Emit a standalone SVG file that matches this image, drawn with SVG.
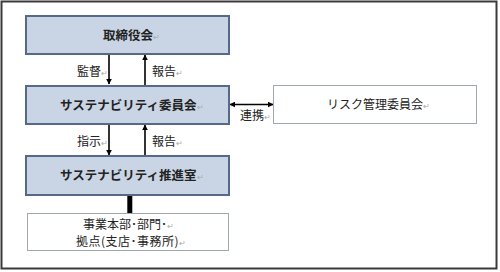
<svg xmlns="http://www.w3.org/2000/svg" width="500" height="272" viewBox="0 0 500 272">
<style>
text{font-family:"Noto Sans CJK JP","Noto Sans",sans-serif;font-size:12px;fill:#222;}
.t{font-weight:bold;font-size:12.5px;}
.pm{fill:#aaa;font-size:8px;font-weight:normal;}
.blue{fill:#c9d5e4;stroke:#56698a;stroke-width:2;}
.white{fill:#fff;stroke:#a0a8b0;stroke-width:1;}
.ln{stroke:#000;stroke-width:1.6;fill:none;}
</style>
<defs>
<marker id="ah" viewBox="0 0 10 10" refX="9" refY="5" markerWidth="6" markerHeight="6" markerUnits="userSpaceOnUse" orient="auto-start-reverse">
<path d="M0,0 L10,5 L0,10 z" fill="#000"/>
</marker>
</defs>
<rect x="1.5" y="1.5" width="495" height="267" fill="#fff" stroke="#3a3a3a" stroke-width="2"/>
<g id="connectors">
<line class="ln" x1="109" y1="54" x2="109" y2="84" marker-end="url(#ah)"/>
<line class="ln" x1="145" y1="85" x2="145" y2="55" marker-end="url(#ah)"/>
<line class="ln" x1="109" y1="124" x2="109" y2="155" marker-end="url(#ah)"/>
<line class="ln" x1="145" y1="156" x2="145" y2="125" marker-end="url(#ah)"/>
<line class="ln" x1="230" y1="104.5" x2="273" y2="104.5" marker-start="url(#ah)" marker-end="url(#ah)"/>
<line x1="129.8" y1="195" x2="129.8" y2="213" stroke="#000" stroke-width="5"/>
<text x="77" y="75.5">監督<tspan class="pm">↵</tspan></text>
<text x="152" y="75.5">報告<tspan class="pm">↵</tspan></text>
<text x="77" y="146">指示<tspan class="pm">↵</tspan></text>
<text x="152" y="146">報告<tspan class="pm">↵</tspan></text>
<text x="240" y="120">連携<tspan class="pm">↵</tspan></text>
</g>
<g id="board">
<rect class="blue" x="26" y="16" width="203" height="38"/>
<text class="t" x="103" y="39.5">取締役会<tspan class="pm">↵</tspan></text>
</g>
<g id="committee">
<rect class="blue" x="26" y="86" width="203" height="38"/>
<text class="t" x="60" y="109.5">サステナビリティ委員会<tspan class="pm">↵</tspan></text>
</g>
<g id="office">
<rect class="blue" x="26" y="156" width="203" height="39"/>
<text class="t" x="60" y="180">サステナビリティ推進室<tspan class="pm">↵</tspan></text>
</g>
<g id="divisions">
<rect class="white" x="27.5" y="213.5" width="201" height="37"/>
<text x="83" y="228.5">事業本部･部門･<tspan class="pm">↵</tspan></text>
<text x="76" y="245.5" letter-spacing="0.5">拠点(支店･事務所)<tspan class="pm">↵</tspan></text>
</g>
<g id="risk">
<rect class="white" x="273.5" y="85.5" width="203" height="38"/>
<text x="327" y="109">リスク管理委員会<tspan class="pm">↵</tspan></text>
</g>
</svg>
